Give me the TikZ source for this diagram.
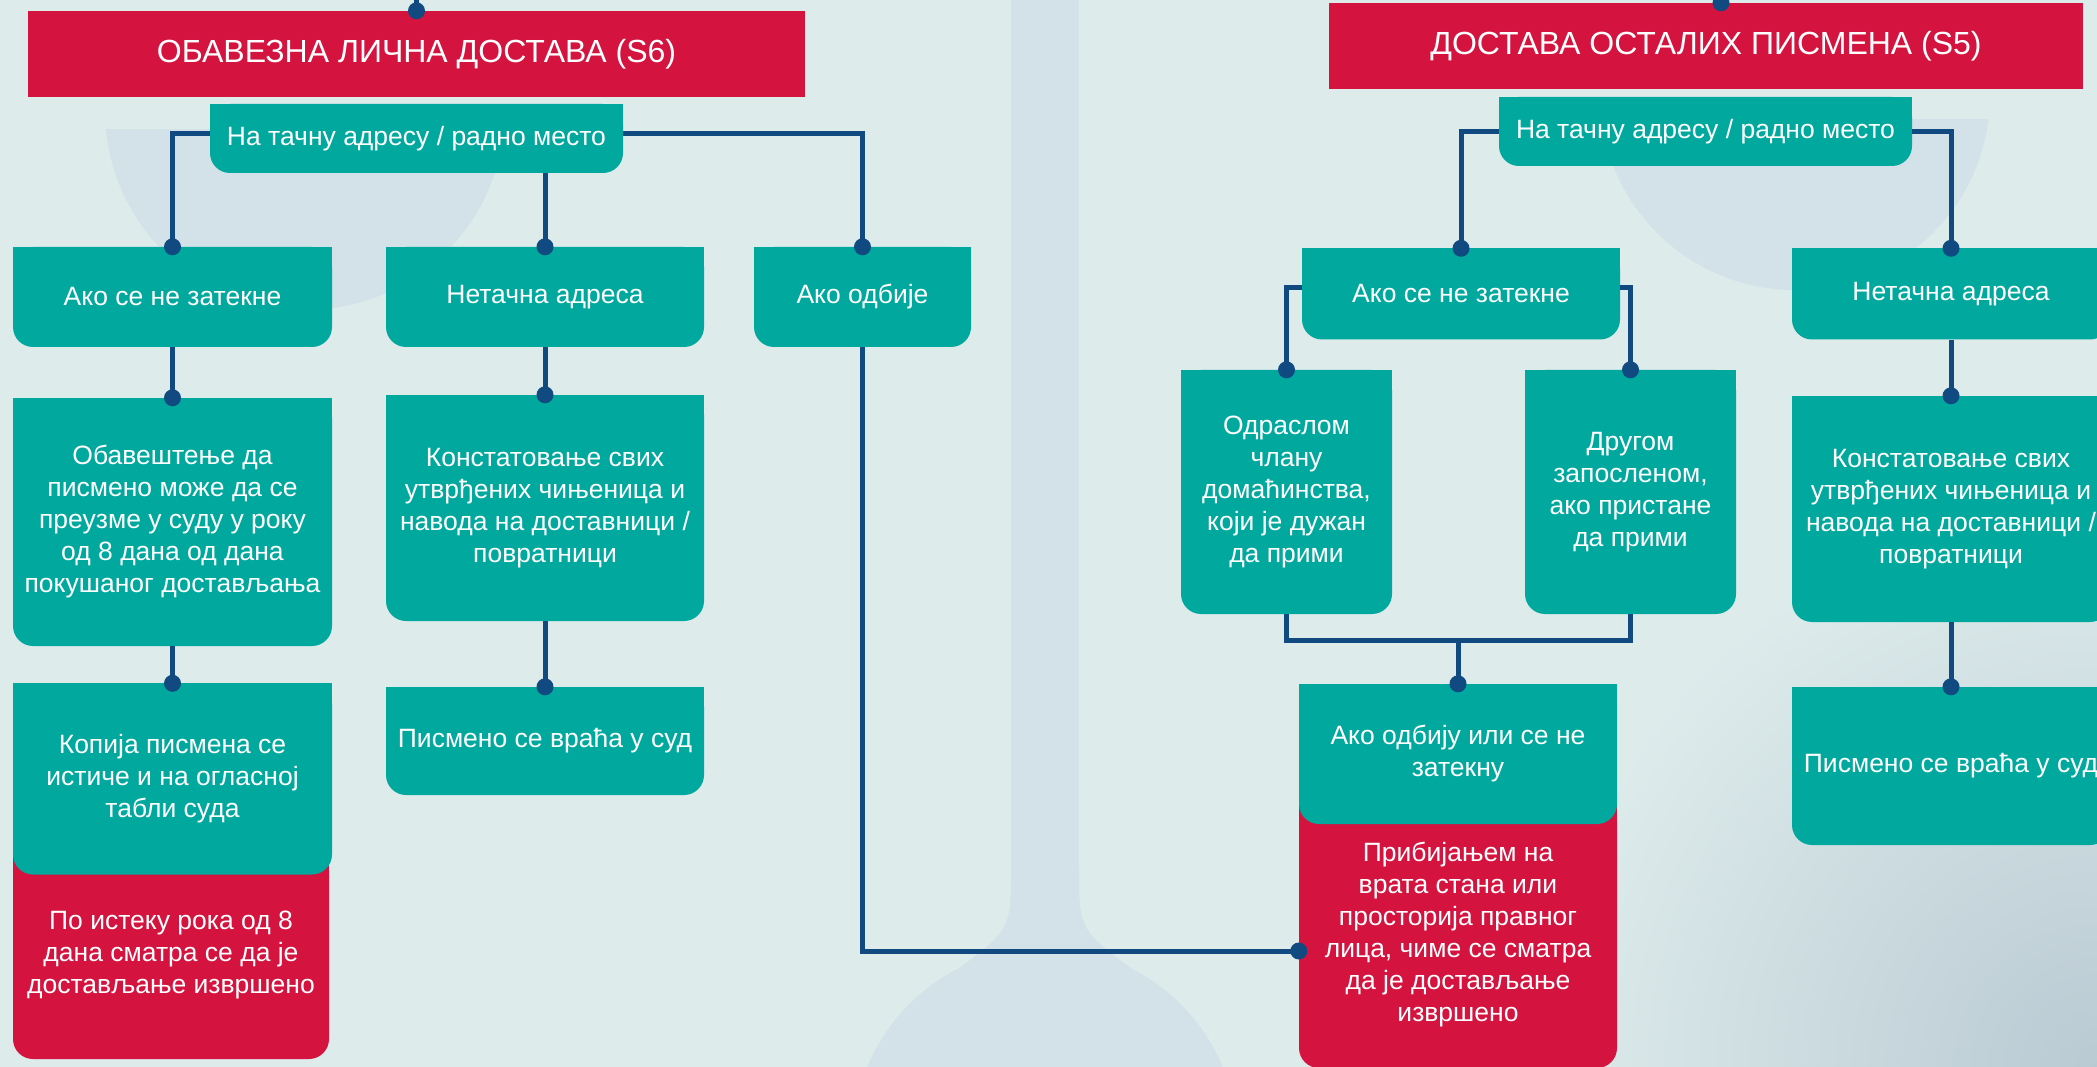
\documentclass[tikz,border=0pt]{standalone}
\usepackage{fontspec}
\setmainfont{Liberation Sans}
\usepackage{tikz}
\usetikzlibrary{positioning, arrows.meta}
\definecolor{verde}{RGB}{0,168,158}
\definecolor{rojo}{RGB}{212,19,63}
\definecolor{azul}{RGB}{16,74,128}
\definecolor{fondo}{RGB}{221,235,235}
\definecolor{grano}{RGB}{211,225,232}
\definecolor{sombra}{RGB}{186,202,211}
\pgfdeclarelayer{capafondo}
\pgfdeclarelayer{tapa}
\pgfsetlayers{capafondo,tapa,main}
\newcommand{\letratit}{\fontsize{32}{38}\selectfont}
\newcommand{\letra}{\fontsize{26.5}{32}\selectfont}

\begin{document}
\begin{tikzpicture}[x=1pt,y=-1pt,
    caja/.style={fill=verde, rounded corners=20pt, text=white, align=center, font=\letra, inner sep=0pt},
    cajaroja/.style={caja, fill=rojo},
    titulo/.style={fill=rojo, text=white, font=\letratit, inner sep=0pt},
    linea/.style={draw=azul, line width=5pt}]
    \useasboundingbox (0,0) rectangle (2097,1067);

    % Fondo con la balanza
    \begin{pgfonlayer}{capafondo}
        \fill[fondo] (0,0) rectangle (2097,1067);
        \path[shading=radial, inner color=sombra, outer color=fondo] (2097,1067) circle (560pt);
        \fill[grano] (1011,0) rectangle (1079,880);
        \fill[grano] (1011,870) .. controls (1011,930) .. (950,975) -- (1140,975) .. controls (1079,930) .. (1079,870) -- cycle;
        \fill[grano] (1045,1140) circle (192pt);
        \begin{scope}
            \clip (0,130) rectangle (700,400);
            \fill[grano] (305,110) circle (200pt);
        \end{scope}
        \begin{scope}
            \clip (1500,120) rectangle (2097,400);
            \fill[grano] (1795,95) circle (195pt);
        \end{scope}
    \end{pgfonlayer}

    % Columna izquierda: S6
    \node[titulo, minimum width=777pt, minimum height=86pt] (tit1) at (416.5,54) {ОБАВЕЗНА ЛИЧНА ДОСТАВА (S6)};
    \node[caja, minimum width=413pt, minimum height=69pt] (dir1) at (416.5,138.5) {\raisebox{-3pt}{На тачну адресу / радно место}};
    \node[caja, minimum width=319pt, minimum height=100pt] (nz1) at (172.5,297) {Ако се не затекне};
    \node[caja, minimum width=318pt, minimum height=100pt] (na1) at (545,297) {Нетачна адреса};
    \node[caja, minimum width=217pt, minimum height=100pt] (od1) at (862.5,297) {Ако одбије};
    \node[caja, minimum width=319pt, minimum height=248pt] (ob1) at (172.5,522) {Обавештење да\\писмено може да се\\преузме у суду у року\\од 8 дана од дана\\покушаног достављања};
    \node[caja, minimum width=318pt, minimum height=226pt] (ko1) at (545,508) {Констатовање свих\\утврђених чињеница и\\навода на доставници /\\повратници};
    \node[cajaroja, minimum width=316pt, minimum height=208pt] (rk1) at (171,955) {По истеку рока од 8\\дана сматра се да је\\достављање извршено};
    \node[caja, minimum width=319pt, minimum height=191pt] (kp1) at (172.5,779) {Копија писмена се\\истиче и на огласној\\табли суда};
    \node[caja, minimum width=318pt, minimum height=108pt] (ps1) at (545,741) {Писмено се враћа у суд};

    % Columna derecha: S5
    \node[titulo, minimum width=754pt, minimum height=86pt] (tit2) at (1706,46) {ДОСТАВА ОСТАЛИХ ПИСМЕНА (S5)};
    \node[caja, minimum width=413pt, minimum height=69pt] (dir2) at (1705.5,131.5) {\raisebox{-2pt}{На тачну адресу / радно место}};
    \node[caja, minimum width=318pt, minimum height=91pt] (nz2) at (1461,294) {Ако се не затекне};
    \node[caja, minimum width=318pt, minimum height=91pt] (na2) at (1951,294) {Нетачна адреса};
    \node[caja, minimum width=211pt, minimum height=244pt] (odr2) at (1286.5,492) {Одраслом\\члану\\домаћинства,\\који је дужан\\да прими};
    \node[caja, minimum width=211pt, minimum height=244pt] (dr2) at (1630.5,492) {Другом\\запосленом,\\ако пристане\\да прими};
    \node[cajaroja, minimum width=318pt, minimum height=266pt] (pr2) at (1458,935) {Прибијањем на\\врата стана или\\просторија правног\\лица, чиме се сматра\\да је достављање\\извршено};
    \node[caja, minimum width=318pt, minimum height=140pt] (ok2) at (1458,754) {Ако одбију или се не\\затекну};
    \node[caja, minimum width=318pt, minimum height=226pt] (ko2) at (1951,509) {Констатовање свих\\утврђених чињеница и\\навода на доставници /\\повратници};
    \node[caja, minimum width=318pt, minimum height=158pt] (ps2) at (1951,766) {Писмено се враћа у суд};

    % Esquinas superiores rectas
    \begin{pgfonlayer}{tapa}
        \foreach \n/\c in {dir1/verde, nz1/verde, na1/verde, od1/verde, ob1/verde, ko1/verde, kp1/verde, ps1/verde, rk1/rojo,
                           dir2/verde, nz2/verde, na2/verde, odr2/verde, dr2/verde, ok2/verde, ko2/verde, ps2/verde, pr2/rojo}
            \fill[\c] (\n.north west) rectangle (\n.east);
    \end{pgfonlayer}

    % Conectores
    \coordinate (arriba2) at ([xshift=15pt]tit2.north);
    \coordinate (entrada) at ([yshift=-16pt]pr2.west);
    \coordinate (union) at (ok2.north |- 0,640);
    \draw[linea] (tit1.north) -- ++(0,-15);
    \draw[linea] (arriba2) -- ++(0,-15);
    \draw[linea] ([yshift=5pt]dir1.west) -| (nz1.north);
    \draw[linea] (dir1.south -| na1.north) -- (na1.north);
    \draw[linea] ([yshift=5pt]dir1.east) -| (od1.north);
    \draw[linea] (nz1.south) -- (ob1.north);
    \draw[linea] (ob1.south) -- (kp1.north);
    \draw[linea] (na1.south) -- (ko1.north);
    \draw[linea] (ko1.south) -- (ps1.north);
    \draw[linea] (od1.south) |- (entrada);
    \draw[linea] (dir2.west) -| (nz2.north);
    \draw[linea] (dir2.east) -| (na2.north);
    \draw[linea] ([yshift=6pt]nz2.west) -| (odr2.north);
    \draw[linea] ([yshift=6pt]nz2.east) -| (dr2.north);
    \draw[linea] (odr2.south) |- (union) -| (dr2.south);
    \draw[linea] (union) -- (ok2.north);
    \draw[linea] (na2.south) -- (ko2.north);
    \draw[linea] (ko2.south) -- (ps2.north);

    % Puntos
    \foreach \p in {tit1.north, arriba2, nz1.north, na1.north, od1.north, ob1.north, ko1.north, kp1.north, ps1.north,
                    nz2.north, na2.north, odr2.north, dr2.north, ok2.north, ko2.north, ps2.north, entrada}
        \fill[azul] (\p) circle (8.5pt);
\end{tikzpicture}
\end{document}
